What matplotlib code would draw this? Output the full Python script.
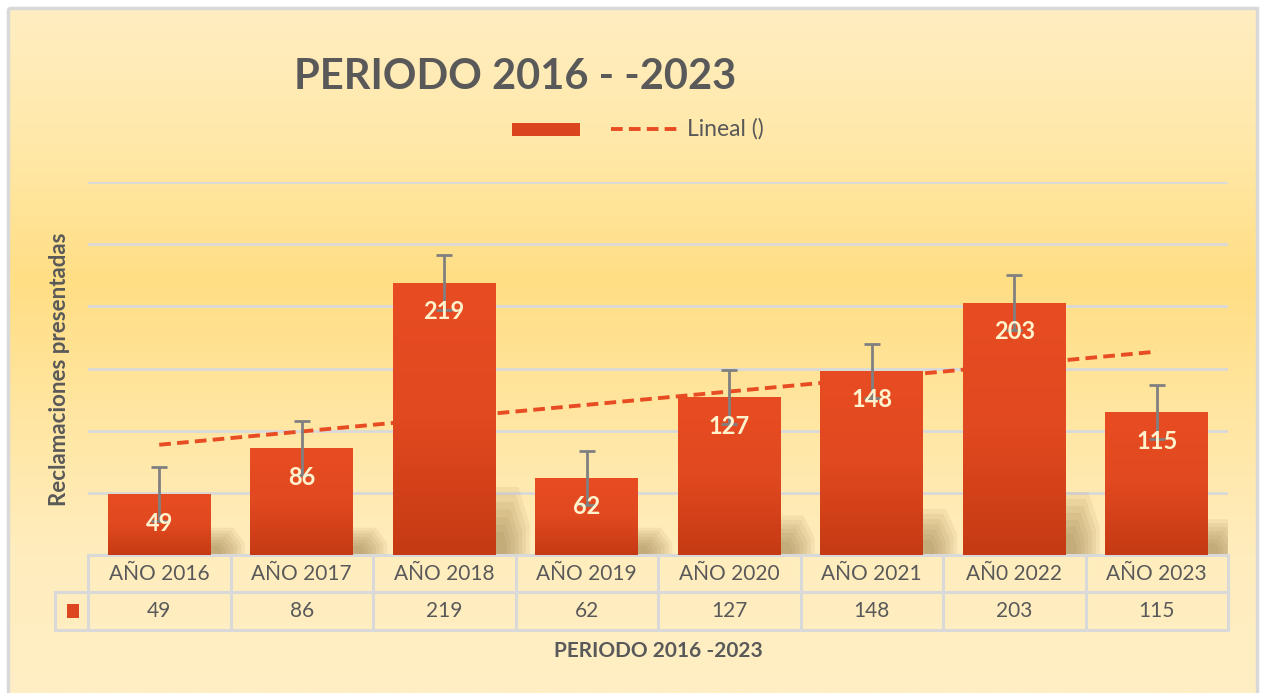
import numpy as np
import matplotlib
matplotlib.use('Agg')
import matplotlib.pyplot as plt
import matplotlib.transforms as mtransforms
from matplotlib.patches import Rectangle, Polygon
from matplotlib.lines import Line2D
from matplotlib.colors import LinearSegmentedColormap

# Datos del gráfico
anios = ['AÑO 2016', 'AÑO 2017', 'AÑO 2018', 'AÑO 2019',
         'AÑO 2020', 'AÑO 2021', 'AÑ0 2022', 'AÑO 2023']
reclamaciones = [49, 86, 219, 62, 127, 148, 203, 115]
error_barra = [22, 22, 22, 22, 22, 22, 22, 22]

titulo = 'PERIODO 2016 - -2023'
titulo_x = 'PERIODO 2016 -2023'
titulo_y = 'Reclamaciones presentadas'
etiqueta_tendencia = 'Lineal ()'

plt.rcParams['font.family'] = ['Lato', 'DejaVu Sans']
GRIS = '#595959'
NARANJA = '#E84C22'
NARANJA_OSC = '#C53A13'
BORDE = '#D9D9D9'

W, H = 1263, 693
fig = plt.figure(figsize=(W / 100, H / 100), dpi=100)
fig.patch.set_facecolor('white')

# Fondo con degradado (capa en píxeles)
bg = fig.add_axes([0, 0, 1, 1], zorder=0)
bg.set_xlim(0, W)
bg.set_ylim(H, 0)
bg.axis('off')
fondo = LinearSegmentedColormap.from_list(
    'fondo', ['#FFEEC2', '#FFE8A8', '#FFDE84', '#FFE6A2', '#FFEDBE', '#FFEFC4'])
grad = np.linspace(0, 1, 256).reshape(-1, 1)
bg.imshow(grad, cmap=fondo, extent=[8, 1257, H, 8], aspect='auto', zorder=0)
bg.add_patch(Rectangle((8, 8), 1249, H, fill=False, edgecolor=BORDE, lw=2.5, zorder=1))
bg.set_xlim(0, W)
bg.set_ylim(H, 0)

# Área del gráfico
ax = fig.add_axes([88 / W, (H - 555) / H, 1140 / W, 373 / H], zorder=1)
ax.patch.set_alpha(0)
x = np.arange(len(anios))
ax.set_xlim(-0.5, len(anios) - 0.5)
ax.set_ylim(0, 300)
ax.set_yticks(range(50, 301, 50))
ax.yaxis.grid(True, color=BORDE, lw=2)
ax.set_axisbelow(True)
ax.tick_params(left=False, bottom=False, labelleft=False, labelbottom=False)
for s in ax.spines.values():
    s.set_visible(False)

# Sombras suaves de las barras
ancho = 0.72
px_x = 1140 / len(anios)
for xi, v in zip(x, reclamaciones):
    xr = xi + ancho / 2
    h = max(v * 0.25, 22)
    for k in range(7):
        f = 1 - k / 9
        ax.add_patch(Polygon([(xr, 0), (xr + 0.24 * f, 0), (xr + 0.24 * f, h * 0.45 * f),
                              (xr + 0.16 * f, h * f), (xr, h * f)],
                             closed=True, facecolor='#8A6E38', edgecolor='none',
                             alpha=0.09, zorder=1))

# Línea de tendencia lineal
coef = np.polyfit(x, reclamaciones, 1)
ax.plot(x, np.polyval(coef, x), color=NARANJA, lw=2.8, ls=(0, (3, 1.6)),
        zorder=2, solid_capstyle='butt')

# Barras con degradado
barras = ax.bar(x, reclamaciones, width=ancho, color='none', zorder=3)
cm_barra = LinearSegmentedColormap.from_list('barra', [NARANJA_OSC, '#E14920', NARANJA])
for b in barras:
    im = ax.imshow(grad, cmap=cm_barra, origin='lower', aspect='auto',
                   extent=[b.get_x(), b.get_x() + b.get_width(), 0, b.get_height()],
                   zorder=3)
    im.set_clip_path(b)
ax.set_xlim(-0.5, len(anios) - 0.5)
ax.set_ylim(0, 300)

# Barras de error
eb = ax.errorbar(x, reclamaciones, yerr=error_barra, fmt='none', ecolor='#808080',
                 elinewidth=2, capsize=6, capthick=2, zorder=4)

# Etiquetas de datos
for xi, v in zip(x, reclamaciones):
    ax.annotate(str(v), (xi, v), xytext=(0, -29), textcoords='offset pixels',
                ha='center', va='center', fontsize=17, fontweight='bold',
                color='#FFF2CC', zorder=5)

# Tabla de datos bajo el eje
trans = mtransforms.blended_transform_factory(ax.transData, ax.transAxes)
fila1 = -37 / 373
fila2 = -75 / 373
izq_leyenda = -0.5 - 33 / px_x
for xi, cat, v in zip(x, anios, reclamaciones):
    ax.text(xi, fila1 / 2, cat, transform=trans, ha='center', va='center',
            fontsize=15, color=GRIS)
    ax.text(xi, (fila1 + fila2) / 2, str(v), transform=trans, ha='center', va='center',
            fontsize=15, color=GRIS)
lin = dict(color=BORDE, lw=2.2, transform=trans, clip_on=False, solid_capstyle='projecting')
ax.plot([-0.5, len(anios) - 0.5], [0, 0], **lin)
ax.plot([izq_leyenda, len(anios) - 0.5], [fila1, fila1], **lin)
ax.plot([izq_leyenda, len(anios) - 0.5], [fila2, fila2], **lin)
ax.plot([izq_leyenda, izq_leyenda], [fila1, fila2], **lin)
for xi in np.arange(len(anios) + 1) - 0.5:
    ax.plot([xi, xi], [0, fila2], **lin)
# marcador de la serie en la tabla
ax.add_patch(Rectangle((izq_leyenda + 0.085, (fila1 + fila2) / 2 - 0.018), 0.085, 0.036,
                       transform=trans, clip_on=False, facecolor='#DC4620',
                       edgecolor='none'))

# Títulos
bg.text(515, 77, titulo, ha='center', va='center', fontsize=30, fontweight='bold', color=GRIS)
bg.text(658, 651, titulo_x, ha='center', va='center', fontsize=15, fontweight='bold', color=GRIS)
bg.text(60, 369, titulo_y, ha='center', va='center', rotation=90, fontsize=16,
        fontweight='bold', color=GRIS)

# Leyenda
bg.add_patch(Rectangle((512, 123), 68, 13, facecolor='#DA4520', edgecolor='none'))
bg.add_line(Line2D([611, 680], [129, 129], color=NARANJA, lw=2.8, ls=(0, (3, 1.6))))
bg.text(687, 129, etiqueta_tendencia, ha='left', va='center', fontsize=16.5, color=GRIS)

fig.savefig('out.png', dpi=100)
